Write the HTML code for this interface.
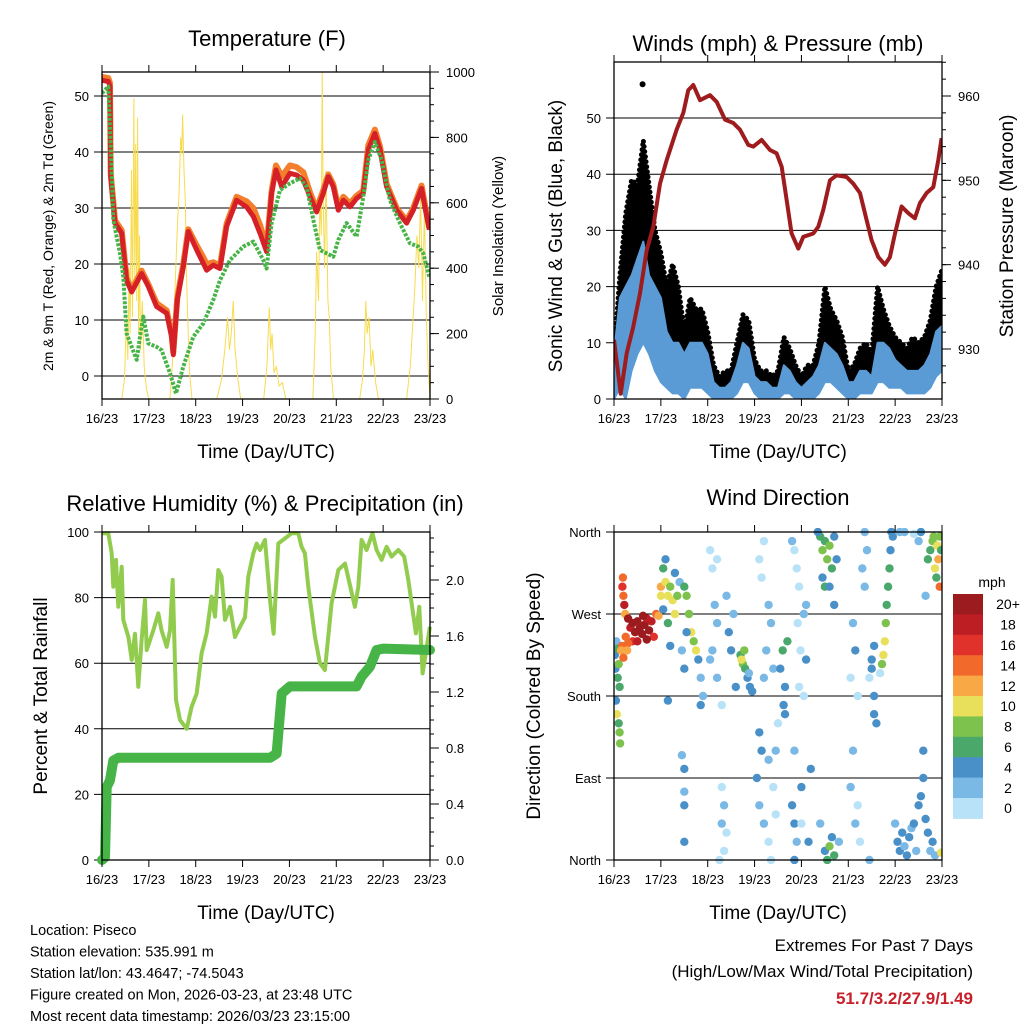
<!DOCTYPE html>
<html><head><meta charset="utf-8">
<style>
body{margin:0;background:#fff;}
svg{display:block;font-family:"Liberation Sans",Arial,sans-serif;}
</style></head>
<body>
<svg id="fig" width="1024" height="1024" viewBox="0 0 1024 1024" xmlns="http://www.w3.org/2000/svg">
<rect width="1024" height="1024" fill="#fff"/>
</svg>
<script>
// ---------- DATA ----------
var dayLabels=["16/23","17/23","18/23","19/23","20/23","21/23","22/23","23/23"];
var tempTicks=[0,10,20,30,40,50];
var solarTicks=[0,200,400,600,800,1000];
var windTicks=[0,10,20,30,40,50];
var presTicks=[930,940,950,960];
var rhTicks=[0,20,40,60,80,100];
var precipTicks=[0.0,0.4,0.8,1.2,1.6,2.0];
var dirTicks=[0,90,180,270,360];
var dirLabels=["North","East","South","West","North"];

var tTimes=[0,.135,.171,.185,.277,.42,.526,.633,.846,.989,1.166,1.38,1.486,1.522,1.607,1.735,1.842,2.02,2.162,2.233,2.375,2.518,2.66,2.873,3.087,3.229,3.371,3.513,3.62,3.713,3.834,4.011,4.154,4.296,4.438,4.58,4.723,4.829,4.936,5.043,5.149,5.292,5.434,5.576,5.683,5.825,5.932,6.074,6.287,6.501,6.643,6.821,6.892,6.984];
var temp2m=[52.8,52.6,51.7,35.6,27.3,25.5,17,15,18.3,16,12.4,11.2,7,3.8,13.6,19.5,25.8,22.5,20.1,18.9,19.8,19.2,26.7,31.4,30.2,28.5,25.5,22.2,32.6,36.8,33.8,36.2,35.9,35,32,29.3,32.6,35.6,33.8,29.6,31.4,30.2,31.7,32.6,40.4,43.3,40.4,33.8,29.6,27.3,29.6,33.5,30.2,26.1];
var temp9m=[53.4,53.2,52.3,36.2,27.8,26,17.5,15.4,18.8,16.4,13,11.7,7.4,4.2,14,20,26.2,23.3,21.2,20,20.3,19.7,27.2,32,31.2,30,27,23,33,37.6,35.6,37.6,37.3,36.4,32.8,29.8,33.2,36,34.2,30.2,32,30.8,32.2,33.1,41.2,44,41,34.3,30,27.7,30,34,30.6,26.5];
var tdTimes=[0,.135,.185,.242,.384,.455,.526,.633,.74,.811,.882,.989,1.166,1.273,1.451,1.579,1.735,1.949,2.162,2.375,2.518,2.731,3.016,3.229,3.442,3.513,3.62,3.798,4.011,4.225,4.367,4.509,4.651,4.936,5.043,5.22,5.434,5.576,5.683,5.825,5.967,6.145,6.358,6.572,6.75,6.856,6.984];
var dewpoint=[50.5,51.7,41.5,27.9,21.9,17.7,7.6,5.2,2.9,7,10.6,5.8,5.2,4.6,0.5,-3.1,1.7,7,9.4,13.6,17.1,20.7,23.1,24,20.7,19.2,27.3,33.2,34.4,35.3,33.8,27.9,22.5,21.3,24.3,27.3,24.9,32,38.6,41.8,38.6,31.4,27.3,23.7,23.1,21.9,17.7];
var solarTimes=[0,.42,.48,.52,.55,.58,.6,.63,.65,.68,.7,.72,.74,.76,.78,.8,.82,.86,.9,.95,1.0,1.45,1.5,1.55,1.6,1.65,1.68,1.7,1.72,1.75,1.78,1.8,1.83,1.87,1.92,2.45,2.55,2.62,2.68,2.72,2.76,2.8,2.84,2.9,2.96,3.45,3.52,3.57,3.6,3.63,3.67,3.72,3.78,3.85,3.92,4.5,4.55,4.58,4.62,4.65,4.68,4.7,4.72,4.75,4.78,4.82,4.85,4.88,4.94,5.5,5.56,5.6,5.63,5.66,5.7,5.74,5.78,5.84,5.9,6.5,6.58,6.62,6.68,6.72,6.76,6.8,6.84,6.88,6.92,6.96,7.0];
var solar=[0,0,60,250,120,400,200,700,250,920,350,780,300,860,200,500,150,300,100,30,0,0,100,300,500,650,800,750,870,700,600,400,250,80,0,0,60,150,250,150,200,300,150,60,0,0,100,280,150,200,80,100,40,50,0,0,200,450,300,620,500,1000,600,400,700,300,250,100,0,0,60,150,300,200,250,100,150,50,0,0,100,200,350,500,400,620,300,580,250,100,0];

var presTimes=[0,.142,.27,.41,.555,.697,.839,.981,1.124,1.337,1.479,1.586,1.693,1.835,2.049,2.191,2.369,2.546,2.688,2.866,2.973,3.151,3.329,3.471,3.578,3.684,3.791,3.933,4.04,4.253,4.36,4.467,4.609,4.751,4.964,5.107,5.249,5.391,5.498,5.64,5.782,5.889,5.996,6.138,6.28,6.422,6.529,6.671,6.814,6.921,6.992];
var pressure=[931.1,924.7,929.5,932.6,936.6,941.7,944.5,949.6,952.4,956,958,960.7,961.3,959.5,960.1,959.3,957.2,956.8,956,954.2,954,954.8,953.6,953.2,951.6,947.7,943.7,941.9,943.3,943.7,944.5,946.5,950,950.6,950.4,949.6,948.5,945.3,942.9,940.9,940,940.9,943.7,946.9,946.1,945.5,947.3,948.5,949.2,952.4,955];
var windTimes=[0,.125,.25,.375,.5,.625,.75,.875,1,1.125,1.25,1.375,1.5,1.625,1.75,1.875,2,2.125,2.25,2.375,2.5,2.625,2.75,2.875,3,3.125,3.25,3.375,3.5,3.625,3.75,3.875,4,4.125,4.25,4.375,4.5,4.625,4.75,4.875,5,5.125,5.25,5.375,5.5,5.625,5.75,5.875,6,6.125,6.25,6.375,6.5,6.625,6.75,6.875,7];
var gustHigh=[8,22,33,39,38,46,38,30,26,20,24,20,12,18,16,16,12,6,4,5,5,10,15,14,7,5,5,4,5,11,9,6,4,6,6,10,20,16,14,11,5,6,9,10,8,20,16,13,11,10,9,11,10,11,14,20,23];
var sonicHigh=[8,18,20,22,25,28,22,20,18,12,10,10,8,10,10,10,8,3,2,2,3,6,10,9,4,3,3,2,2,6,5,3,2,3,4,6,10,9,8,6,3,3,5,5,4,10,10,9,7,6,5,5,5,6,8,12,13];
var sonicLow=[0,2,0,5,8,10,8,5,3,2,1,1,0,2,2,2,1,0,0,0,0,1,3,3,1,0,0,0,0,1,1,0,0,0,0,1,3,3,2,1,0,0,1,1,1,3,3,2,2,2,1,1,1,1,2,4,5];
var gustOutlierTimes=[0.61];
var gustOutliers=[56];

var rhTimes=[0,.135,.206,.242,.299,.348,.42,.455,.563,.633,.704,.775,.846,.917,.953,1.095,1.202,1.273,1.38,1.451,1.508,1.579,1.664,1.807,1.913,2.02,2.126,2.233,2.34,2.411,2.482,2.553,2.624,2.731,2.838,2.944,3.051,3.122,3.229,3.301,3.372,3.478,3.585,3.663,3.763,4.047,4.189,4.26,4.33,4.402,4.545,4.651,4.757,4.9,5.043,5.185,5.398,5.469,5.54,5.647,5.772,5.86,5.967,6.074,6.18,6.323,6.45,6.536,6.607,6.7,6.771,6.842,6.998];
var rh=[99.6,99.6,93.5,83.3,91.5,77.2,89.4,73.2,68,61,69,52.8,67,79.3,64,70,75.2,70,65,70,85.4,48.8,42.7,40,46.7,50.8,63,69.1,80.3,74.2,88.4,86.4,73.2,77.2,68,71,74,86.4,93.5,96.5,94.5,97.6,79.3,69,96.5,99.6,99.6,95.5,93.5,83.3,68,60,57.9,78.3,88.4,90.4,77.2,83.3,97.6,94.5,99.6,94.5,91.5,95.5,92.5,94.5,92.5,85.4,78.3,69.1,77.2,56.9,71.1];
var pTimes=[0,.064,.1,.171,.242,.349,.6,1.878,3.585,3.727,3.834,4.011,5.434,5.541,5.718,5.861,6.003,7];
var precip=[0,0.02,0.52,0.57,0.71,0.73,0.73,0.73,0.73,0.76,1.19,1.24,1.24,1.31,1.38,1.5,1.51,1.5];

var dirDays=[0.02,0.03,0.05,0.08,0.1,0.12,0.06,0.1,0.12,0.13,0.04,0.08,0.18,0.2,0.22,0.19,0.24,0.17,0.15,0.3,0.35,0.4,0.45,0.5,0.55,0.6,0.65,0.7,0.75,0.8,0.85,0.4,0.3,0.25,0.9,0.95,0.5,0.7,0.62,0.2,0.28,1.0,1.05,1.1,1.15,1.2,1.25,1.0,1.05,1.1,1.15,1.2,1.3,1.35,1.3,1.4,1.15,1.5,1.55,1.6,1.65,1.7,1.75,1.8,1.55,1.45,1.5,1.85,1.9,1.85,1.5,1.5,1.5,1.45,1.5,2.05,2.1,2.15,2.2,2.1,2.2,2.3,2.05,2.3,2.35,2.3,2.4,2.35,2.25,2.45,2.5,2.6,2.55,2.4,2.2,2.7,2.75,2.8,2.72,2.78,2.85,2.9,2.95,2.88,3.1,3.2,3.15,3.3,3.35,3.25,3.4,3.2,3.1,3.15,3.3,3.05,3.1,3.2,3.3,3.35,3.45,3.4,3.45,3.5,3.55,3.6,3.62,3.65,3.7,3.65,3.8,3.85,3.9,3.95,3.92,3.98,4.05,4.1,3.8,3.85,3.9,3.85,4.0,4.0,4.2,4.15,4.1,4.05,3.95,3.85,4.4,4.45,4.5,4.55,4.6,4.65,4.7,4.5,4.45,4.6,4.75,4.55,4.5,4.6,4.7,4.65,4.8,4.4,4.35,4.7,5.1,5.15,5.05,5.2,5.1,5.05,5.2,5.15,5.25,5.3,5.35,5.4,5.35,5.45,5.5,5.55,5.5,5.55,5.6,5.55,5.45,5.68,5.72,5.75,5.78,5.8,5.82,5.85,5.88,5.9,5.92,5.95,6.0,6.05,6.1,6.15,6.2,6.25,6.3,6.35,6.4,6.45,6.5,6.55,6.6,6.65,6.7,6.75,6.8,6.1,6.2,6.4,6.5,6.55,6.65,6.6,6.85,6.98,6.7,6.75,6.8,6.85,6.9,6.95,6.92,6.98,6.88,6.95,6.82];
var dirDegs=[225,210,240,200,215,190,160,150,140,128,175,232,300,290,280,310,270,235,230,265,255,260,250,262,255,248,258,265,252,262,245,240,238,245,270,268,240,242,268,222,230,300,320,305,290,300,285,290,275,330,260,235,315,290,270,305,175,300,290,270,250,240,230,220,250,230,210,200,180,170,100,75,20,115,60,340,320,280,260,230,200,170,220,40,60,80,30,10,0,250,230,190,270,290,330,225,215,210,220,230,200,190,185,205,330,350,310,280,260,230,210,200,140,120,110,90,60,40,20,0,50,80,120,150,210,230,170,190,240,160,350,340,320,300,260,230,270,280,60,40,20,0,80,40,100,20,220,180,190,120,355,340,350,330,345,320,355,300,310,300,330,0,10,15,5,25,20,40,360,280,260,230,200,180,120,80,60,40,20,320,300,340,360,200,220,235,210,160,150,180,0,205,215,225,240,260,280,300,320,340,360,355,40,20,10,30,15,5,25,35,40,10,60,70,90,45,30,10,20,360,360,358,350,360,290,120,5,8,330,340,350,320,345,355,330,340,310,300,355];
var dirSpeeds=[4,4,3,6,8,6,10,6,8,8,4,6,16,14,18,14,12,14,12,20,18,20,20,20,20,20,20,18,20,18,16,16,14,14,14,12,18,20,20,14,12,12,6,10,10,8,10,10,4,4,6,4,4,8,10,2,4,6,8,8,10,8,10,4,4,2,4,2,2,4,4,2,4,2,4,0,0,2,2,2,2,0,2,2,2,0,0,0,0,4,4,4,2,2,0,6,8,6,10,8,4,4,4,2,0,0,0,2,2,2,2,2,4,4,2,4,2,2,0,0,0,0,2,0,4,6,4,4,6,4,2,0,0,0,0,0,2,2,4,4,2,4,4,0,4,4,4,0,0,2,6,8,6,8,8,6,4,6,4,4,4,6,4,8,6,4,2,2,4,4,2,4,0,0,2,2,0,2,0,2,2,2,2,0,4,4,4,4,4,4,2,0,8,10,10,8,6,6,6,4,4,4,2,4,4,4,2,4,4,2,4,2,4,4,4,4,4,2,4,2,2,0,2,4,2,4,2,10,6,6,8,10,10,8,12,6,6,14,8];
var speedBins=[0,2,4,6,8,10,12,14,16,18,20];
var speedColors=["#b8e2f8","#7ab8e6","#4a90c8","#4aa86a","#7dc24c","#e8e05a","#f8a845","#f26a2b","#e0322a","#bd1e24","#9b1b1e"];
var speedLabels=["0","2","4","6","8","10","12","14","16","18","20+"];

// ---------- HELPERS ----------
var NS="http://www.w3.org/2000/svg";
var svg=document.getElementById("fig");
function mk(tag,attrs,parent){var e=document.createElementNS(NS,tag);for(var k in attrs)e.setAttribute(k,attrs[k]);(parent||svg).appendChild(e);return e;}
function txt(str,x,y,size,anchor,parent,extra){var e=mk("text",{x:x,y:y,"font-size":size,"text-anchor":anchor||"middle",fill:"#000"},parent);if(extra)for(var k in extra)e.setAttribute(k,extra[k]);e.textContent=str;return e;}
function lin(a,b,c,d){return function(v){return c+(v-a)*(d-c)/(b-a);};}
function pathD(xs,ys,fx,fy){var d="";for(var i=0;i<xs.length;i++)d+=(i?"L":"M")+fx(xs[i]).toFixed(1)+","+fy(ys[i]).toFixed(1);return d;}
function areaD(xs,lo,hi,fx,fy){var d="";for(var i=0;i<xs.length;i++)d+=(i?"L":"M")+fx(xs[i]).toFixed(1)+","+fy(hi[i]).toFixed(1);for(var j=xs.length-1;j>=0;j--)d+="L"+fx(xs[j]).toFixed(1)+","+fy(lo[j]).toFixed(1);return d+"Z";}

function frame(P,g){
  for(var i=0;i<dayLabels.length;i++){
    var x=P.fx(i);
    var t1=mk("line",{x1:x,y1:P.B,x2:x,y2:P.B+7,stroke:"#000","stroke-width":1},g);
    
    
    mk("line",{x1:x,y1:P.T,x2:x,y2:P.T-7,stroke:"#000","stroke-width":1},g);
    var lb=txt(dayLabels[i],x,P.B+24,13,"middle",g);
    
    
  }
  var r=mk("rect",{x:P.L,y:P.T,width:P.R-P.L,height:P.B-P.T,fill:"none",stroke:"#000","stroke-width":1.3},g);
  
  
  var xt=txt("Time (Day/UTC)",(P.L+P.R)/2,P.B+59,19,"middle",g);
  
  
}
function hgrid(P,ticks,fy,labels,g){
  for(var i=0;i<ticks.length;i++){
    var y=fy(ticks[i]);
    var l=mk("line",{x1:P.L-8,y1:y,x2:P.R,y2:y,stroke:"#000","stroke-width":1},g);
    
    
    var t=txt(labels?labels[i]:String(ticks[i]),P.L-13,y+5,13,"end",g);
    
    
  }
}
function rightAxis(P,ticks,fy,fmt,minorStep,g){
  var lo=ticks[0]-minorStep*20,hi=ticks[ticks.length-1]+minorStep*20;
  for(var v=lo;v<=hi+1e-9;v+=minorStep){
    var y=fy(v);if(y<P.T-0.5||y>P.B+0.5)continue;
    mk("line",{x1:P.R,y1:y,x2:P.R+4,y2:y,stroke:"#000","stroke-width":1},g);
  }
  for(var i=0;i<ticks.length;i++){
    var y=fy(ticks[i]);
    mk("line",{x1:P.R,y1:y,x2:P.R+9,y2:y,stroke:"#000","stroke-width":1},g);
    var t=txt(fmt(ticks[i]),P.R+16,y+5,13,"start",g);
    
    
  }
}

// ---------- PANEL 1: TEMPERATURE ----------
(function(){
  var g=mk("g",{});
  
  
  var P={L:102,R:430,T:72,B:399};
  P.fx=lin(0,7,P.L,P.R);
  var fy=lin(0,50,376,96), fs=lin(0,1000,399,72);
  var cp=mk("clipPath",{id:"c1"},g);mk("rect",{x:P.L,y:P.T,width:P.R-P.L,height:P.B-P.T},cp);
  var t=txt("Temperature (F)",267,46,22,"middle",g);
  
  
  hgrid(P,tempTicks,fy,null,g);
  rightAxis(P,solarTicks,fs,String,50,g);
  var d=mk("g",{"clip-path":"url(#c1)"},g);
  var s=mk("path",{d:pathD(solarTimes,solar,P.fx,fs),fill:"none",stroke:"#f7dc50","stroke-width":1},d);
  
  
  var o=mk("path",{d:pathD(tTimes,temp9m,P.fx,fy),fill:"none",stroke:"#f37e2c","stroke-width":6,"stroke-linejoin":"round"},d);
  
  
  var r=mk("path",{d:pathD(tTimes,temp2m,P.fx,fy),fill:"none",stroke:"#d52027","stroke-width":5,"stroke-linejoin":"round"},d);
  
  
  var gr=mk("path",{d:pathD(tdTimes,dewpoint,P.fx,fy),fill:"none",stroke:"#46b446","stroke-width":4,"stroke-dasharray":"3 1.5","stroke-linejoin":"round"},d);
  
  
  frame(P,g);
  var yl=txt("2m & 9m T (Red, Orange) & 2m Td (Green)",0,0,14,"middle",g,{transform:"translate(53,236) rotate(-90)"});
  
  
  var yr=txt("Solar Insolation (Yellow)",0,0,15,"middle",g,{transform:"translate(503,236) rotate(-90)"});
  
  
})();

// ---------- PANEL 2: WINDS ----------
(function(){
  var g=mk("g",{});
  
  
  var P={L:614,R:942,T:62,B:399};
  P.fx=lin(0,7,P.L,P.R);
  var fy=lin(0,50,399,118), fp=lin(930,960,349,96);
  var cp=mk("clipPath",{id:"c2"},g);mk("rect",{x:P.L,y:P.T,width:P.R-P.L,height:P.B-P.T},cp);
  var t=txt("Winds (mph) & Pressure (mb)",778,51,22,"middle",g);
  
  
  hgrid(P,windTicks,fy,null,g);
  rightAxis(P,presTicks,fp,String,2,g);
  var d=mk("g",{"clip-path":"url(#c2)"},g);
  var ga=mk("path",{d:areaD(windTimes,sonicLow,gustHigh,P.fx,fy),fill:"#000"},d);
  
  
  var gt=mk("path",{d:pathD(windTimes,gustHigh,P.fx,fy),fill:"none",stroke:"#000","stroke-width":5,"stroke-dasharray":"0.1 5","stroke-linecap":"round"},d);
  
  
  var sa=mk("path",{d:areaD(windTimes,sonicLow,sonicHigh,P.fx,fy),fill:"#5b9bd5",stroke:"#5b9bd5","stroke-width":2,"stroke-linejoin":"round"},d);
  
  
  for(var i=0;i<gustOutliers.length;i++){
    var c=mk("circle",{cx:P.fx(gustOutlierTimes[i]),cy:fy(gustOutliers[i]),r:3,fill:"#000"},d);
    
    
  }
  var p=mk("path",{d:pathD(presTimes,pressure,P.fx,fp),fill:"none",stroke:"#9e1b1e","stroke-width":4,"stroke-linejoin":"round"},d);
  
  
  frame(P,g);
  var yl=txt("Sonic Wind & Gust (Blue, Black)",0,0,19,"middle",g,{transform:"translate(562,236) rotate(-90)"});
  
  
  var yr=txt("Station Pressure (Maroon)",0,0,19,"middle",g,{transform:"translate(1013,226) rotate(-90)"});
  
  
})();

// ---------- PANEL 3: RH & PRECIP ----------
(function(){
  var g=mk("g",{});
  
  
  var P={L:102,R:430,T:532,B:860};
  P.fx=lin(0,7,P.L,P.R);
  var fy=lin(0,100,860,532), fp=lin(0,2,860,580);
  var t=txt("Relative Humidity (%) & Precipitation (in)",265,511,22,"middle",g);
  
  
  hgrid(P,rhTicks,fy,null,g);
  rightAxis(P,precipTicks,fp,function(v){return v.toFixed(1);},0.1,g);
  var r=mk("path",{d:pathD(rhTimes,rh,P.fx,fy),fill:"none",stroke:"#92cc4e","stroke-width":4,"stroke-linejoin":"round"},g);
  
  
  var p=mk("path",{d:pathD(pTimes,precip,P.fx,fp),fill:"none",stroke:"#46b446","stroke-width":10,"stroke-linejoin":"round","stroke-linecap":"round"},g);
  
  
  frame(P,g);
  var yl=txt("Percent & Total Rainfall",0,0,19,"middle",g,{transform:"translate(47,696) rotate(-90)"});
  
  
})();

// ---------- PANEL 4: WIND DIRECTION ----------
(function(){
  var g=mk("g",{});
  
  
  var P={L:614,R:942,T:532,B:860};
  P.fx=lin(0,7,P.L,P.R);
  var fy=lin(0,360,860,532);
  var t=txt("Wind Direction",778,505,22,"middle",g);
  
  
  hgrid(P,dirTicks,fy,dirLabels,g);
  var cp=mk("clipPath",{id:"c4"},g);mk("rect",{x:P.L,y:P.T-4,width:P.R-P.L,height:P.B-P.T+8},cp);
  var d=mk("g",{"clip-path":"url(#c4)"},g);
  function colorFor(s){var k=0;for(var j=0;j<speedBins.length;j++)if(s>=speedBins[j])k=j;return speedColors[k];}
  for(var i=0;i<dirDays.length;i++){
    var c=mk("circle",{cx:P.fx(dirDays[i]).toFixed(1),cy:fy(dirDegs[i]).toFixed(1),r:4.2,fill:colorFor(dirSpeeds[i])},d);
    
    
  }
  frame(P,g);
  var yl=txt("Direction (Colored By Speed)",0,0,19,"middle",g,{transform:"translate(540,696) rotate(-90)"});
  
  
  var cb=mk("g",{},g);
  
  
  var u=txt("mph",992,587,14,"middle",cb);
  
  
  var bh=20.4, top=594;
  for(var i=0;i<speedColors.length;i++){
    var k=speedColors.length-1-i;
    var y=top+i*bh;
    var b=mk("rect",{x:953,y:y.toFixed(1),width:30,height:(bh+0.5).toFixed(1),fill:speedColors[k]},cb);
    
    
    var l=txt(speedLabels[k],1008,y+bh/2+5,14,"middle",cb);
    
    
  }
})();

// ---------- FOOTER ----------
(function(){
  var info=["Location: Piseco","Station elevation: 535.991 m","Station lat/lon: 43.4647; -74.5043","Figure created on Mon, 2026-03-23, at 23:48 UTC","Most recent data timestamp: 2026/03/23 23:15:00"];
  for(var i=0;i<info.length;i++){
    var t=txt(info[i],30,935+i*21.5,14.5,"start");
    
    
  }
  var a=txt("Extremes For Past 7 Days",973,951,17,"end");
  
  
  var b=txt("(High/Low/Max Wind/Total Precipitation)",973,977,17,"end");
  
  
  var c=txt("51.7/3.2/27.9/1.49",973,1004,17,"end",null,{fill:"#c8202a","font-weight":"bold"});
  
  
})();
</script>
</body></html>
